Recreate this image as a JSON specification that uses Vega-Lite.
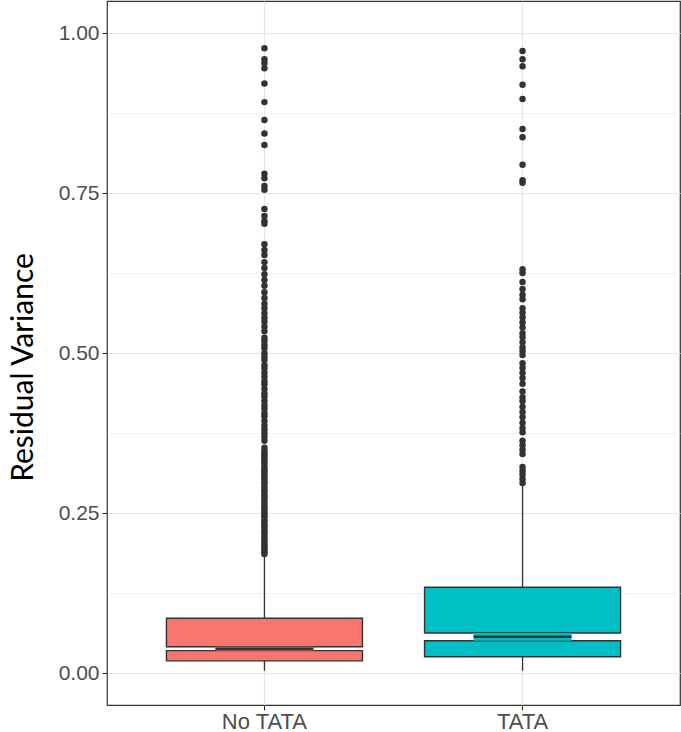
{
  "$schema": "https://vega.github.io/schema/vega-lite/v6.json",
  "width": 573,
  "height": 704,
  "autosize": {"type": "none"},
  "padding": {"left": 107, "top": 1, "right": 1, "bottom": 27},
  "background": "white",
  "config": {
    "view": {"stroke": "#333333", "strokeWidth": 1.2},
    "axis": {"domain": false}
  },
  "datasets": {
    "boxes": [
      {"group": "No TATA", "lower": 0.0035, "q1": 0.019, "nlo": 0.035, "median": 0.038, "nhi": 0.041, "q3": 0.0855, "upper": 0.184},
      {"group": "TATA", "lower": 0.0035, "q1": 0.0255, "nlo": 0.0505, "median": 0.0567, "nhi": 0.0625, "q3": 0.134, "upper": 0.293}
    ],
    "outliers": [
      {"group": "No TATA", "value": 0.976}, {"group": "No TATA", "value": 0.959}, {"group": "No TATA", "value": 0.953},
      {"group": "No TATA", "value": 0.945}, {"group": "No TATA", "value": 0.921}, {"group": "No TATA", "value": 0.892},
      {"group": "No TATA", "value": 0.864}, {"group": "No TATA", "value": 0.843}, {"group": "No TATA", "value": 0.825},
      {"group": "No TATA", "value": 0.780}, {"group": "No TATA", "value": 0.773}, {"group": "No TATA", "value": 0.761},
      {"group": "No TATA", "value": 0.755}, {"group": "No TATA", "value": 0.725}, {"group": "No TATA", "value": 0.714},
      {"group": "No TATA", "value": 0.706}, {"group": "No TATA", "value": 0.702}, {"group": "No TATA", "value": 0.670},
      {"group": "No TATA", "value": 0.661}, {"group": "No TATA", "value": 0.653}, {"group": "No TATA", "value": 0.642},
      {"group": "No TATA", "value": 0.633}, {"group": "No TATA", "value": 0.623}, {"group": "No TATA", "value": 0.614},
      {"group": "No TATA", "value": 0.605}, {"group": "No TATA", "value": 0.595}, {"group": "No TATA", "value": 0.586},
      {"group": "No TATA", "value": 0.577}, {"group": "No TATA", "value": 0.570}, {"group": "No TATA", "value": 0.562},
      {"group": "No TATA", "value": 0.555}, {"group": "No TATA", "value": 0.549}, {"group": "No TATA", "value": 0.541},
      {"group": "No TATA", "value": 0.534}, {"group": "No TATA", "value": 0.524}, {"group": "No TATA", "value": 0.519},
      {"group": "No TATA", "value": 0.513}, {"group": "No TATA", "value": 0.508}, {"group": "No TATA", "value": 0.500},
      {"group": "No TATA", "value": 0.494}, {"group": "No TATA", "value": 0.489}, {"group": "No TATA", "value": 0.481},
      {"group": "No TATA", "value": 0.476}, {"group": "No TATA", "value": 0.469}, {"group": "No TATA", "value": 0.463},
      {"group": "No TATA", "value": 0.456}, {"group": "No TATA", "value": 0.451}, {"group": "No TATA", "value": 0.444},
      {"group": "No TATA", "value": 0.437}, {"group": "No TATA", "value": 0.432}, {"group": "No TATA", "value": 0.425},
      {"group": "No TATA", "value": 0.418}, {"group": "No TATA", "value": 0.413}, {"group": "No TATA", "value": 0.406},
      {"group": "No TATA", "value": 0.401}, {"group": "No TATA", "value": 0.394}, {"group": "No TATA", "value": 0.387},
      {"group": "No TATA", "value": 0.381}, {"group": "No TATA", "value": 0.375}, {"group": "No TATA", "value": 0.369},
      {"group": "No TATA", "value": 0.363}, {"group": "No TATA", "value": 0.352}, {"group": "No TATA", "value": 0.347},
      {"group": "No TATA", "value": 0.343}, {"group": "No TATA", "value": 0.339}, {"group": "No TATA", "value": 0.335},
      {"group": "No TATA", "value": 0.331}, {"group": "No TATA", "value": 0.327}, {"group": "No TATA", "value": 0.322},
      {"group": "No TATA", "value": 0.318}, {"group": "No TATA", "value": 0.315}, {"group": "No TATA", "value": 0.311},
      {"group": "No TATA", "value": 0.307}, {"group": "No TATA", "value": 0.303}, {"group": "No TATA", "value": 0.299},
      {"group": "No TATA", "value": 0.296}, {"group": "No TATA", "value": 0.291}, {"group": "No TATA", "value": 0.287},
      {"group": "No TATA", "value": 0.284}, {"group": "No TATA", "value": 0.279}, {"group": "No TATA", "value": 0.275},
      {"group": "No TATA", "value": 0.272}, {"group": "No TATA", "value": 0.267}, {"group": "No TATA", "value": 0.263},
      {"group": "No TATA", "value": 0.259}, {"group": "No TATA", "value": 0.256}, {"group": "No TATA", "value": 0.251},
      {"group": "No TATA", "value": 0.247}, {"group": "No TATA", "value": 0.244}, {"group": "No TATA", "value": 0.239},
      {"group": "No TATA", "value": 0.236}, {"group": "No TATA", "value": 0.231}, {"group": "No TATA", "value": 0.228},
      {"group": "No TATA", "value": 0.223}, {"group": "No TATA", "value": 0.219}, {"group": "No TATA", "value": 0.216},
      {"group": "No TATA", "value": 0.211}, {"group": "No TATA", "value": 0.208}, {"group": "No TATA", "value": 0.203},
      {"group": "No TATA", "value": 0.199}, {"group": "No TATA", "value": 0.196}, {"group": "No TATA", "value": 0.192},
      {"group": "No TATA", "value": 0.189}, {"group": "No TATA", "value": 0.186},
      {"group": "TATA", "value": 0.972}, {"group": "TATA", "value": 0.959}, {"group": "TATA", "value": 0.948},
      {"group": "TATA", "value": 0.919}, {"group": "TATA", "value": 0.897}, {"group": "TATA", "value": 0.850},
      {"group": "TATA", "value": 0.837}, {"group": "TATA", "value": 0.794}, {"group": "TATA", "value": 0.770},
      {"group": "TATA", "value": 0.766}, {"group": "TATA", "value": 0.631}, {"group": "TATA", "value": 0.625},
      {"group": "TATA", "value": 0.611}, {"group": "TATA", "value": 0.600}, {"group": "TATA", "value": 0.591},
      {"group": "TATA", "value": 0.584}, {"group": "TATA", "value": 0.570}, {"group": "TATA", "value": 0.563},
      {"group": "TATA", "value": 0.556}, {"group": "TATA", "value": 0.548}, {"group": "TATA", "value": 0.540},
      {"group": "TATA", "value": 0.531}, {"group": "TATA", "value": 0.525}, {"group": "TATA", "value": 0.517},
      {"group": "TATA", "value": 0.509}, {"group": "TATA", "value": 0.503}, {"group": "TATA", "value": 0.497},
      {"group": "TATA", "value": 0.484}, {"group": "TATA", "value": 0.477}, {"group": "TATA", "value": 0.469},
      {"group": "TATA", "value": 0.461}, {"group": "TATA", "value": 0.452}, {"group": "TATA", "value": 0.440},
      {"group": "TATA", "value": 0.431}, {"group": "TATA", "value": 0.425}, {"group": "TATA", "value": 0.416},
      {"group": "TATA", "value": 0.408}, {"group": "TATA", "value": 0.400}, {"group": "TATA", "value": 0.391},
      {"group": "TATA", "value": 0.383}, {"group": "TATA", "value": 0.376}, {"group": "TATA", "value": 0.363},
      {"group": "TATA", "value": 0.356}, {"group": "TATA", "value": 0.349}, {"group": "TATA", "value": 0.342},
      {"group": "TATA", "value": 0.322}, {"group": "TATA", "value": 0.316}, {"group": "TATA", "value": 0.310},
      {"group": "TATA", "value": 0.303}, {"group": "TATA", "value": 0.297}
    ]
  },
  "layer": [
    {
      "data": {"name": "outliers"},
      "mark": {"type": "point", "filled": true, "color": "#333333", "opacity": 1, "size": 42},
      "encoding": {
        "x": {
          "field": "group", "type": "nominal", "title": null,
          "scale": {"domain": ["No TATA", "TATA"], "paddingInner": 0, "paddingOuter": 0.11},
          "axis": {
            "title": null, "labelAngle": 0, "grid": true, "gridColor": "#E6E6E6", "gridWidth": 1.2,
            "bandPosition": 0.5, "tickColor": "#333333", "tickSize": 5, "tickWidth": 1.1,
            "labelFont": "Liberation Sans", "labelFontSize": 22, "labelColor": "#4D4D4D", "labelPadding": 1
          }
        },
        "y": {
          "field": "value", "type": "quantitative", "title": "Residual Variance",
          "scale": {"domain": [-0.05, 1.05], "nice": false, "zero": false},
          "axis": {
            "values": [0, 0.125, 0.25, 0.375, 0.5, 0.625, 0.75, 0.875, 1.0],
            "labelExpr": "datum.value % 0.25 == 0 ? format(datum.value, '.2f') : ''",
            "grid": true, "gridColor": "#E6E6E6",
            "gridWidth": {"condition": {"test": "datum.value % 0.25 != 0", "value": 0.6}, "value": 1.2},
            "tickOpacity": {"condition": {"test": "datum.value % 0.25 != 0", "value": 0}, "value": 1},
            "tickColor": "#333333", "tickSize": 5, "tickWidth": 1.1,
            "labelFont": "Liberation Sans", "labelFontSize": 21, "labelColor": "#4D4D4D", "labelPadding": 3,
            "title": "Residual Variance", "titleFont": "Lato", "titleFontSize": 30, "titleFontWeight": "normal",
            "titleColor": "#000000", "titleAngle": -90, "titleAlign": "center", "titleBaseline": "alphabetic",
            "titleX": -75, "titleY": 366
          }
        }
      }
    },
    {
      "data": {"name": "boxes"},
      "mark": {"type": "rule", "color": "#333333", "strokeWidth": 1.3},
      "encoding": {
        "x": {"field": "group", "type": "nominal", "title": null},
        "y": {"field": "lower", "type": "quantitative", "title": "Residual Variance"},
        "y2": {"field": "upper"}
      }
    },
    {
      "data": {"name": "boxes"},
      "mark": {"type": "bar", "size": 196, "stroke": "#333333", "strokeWidth": 1.4},
      "encoding": {
        "x": {"field": "group", "type": "nominal", "title": null},
        "y": {"field": "q1", "type": "quantitative", "title": "Residual Variance"},
        "y2": {"field": "nlo"},
        "color": {"field": "group", "type": "nominal", "scale": {"domain": ["No TATA", "TATA"], "range": ["#F8766D", "#00BFC4"]}, "legend": null}
      }
    },
    {
      "data": {"name": "boxes"},
      "mark": {"type": "bar", "size": 196, "stroke": "#333333", "strokeWidth": 1.4},
      "encoding": {
        "x": {"field": "group", "type": "nominal", "title": null},
        "y": {"field": "nhi", "type": "quantitative", "title": "Residual Variance"},
        "y2": {"field": "q3"},
        "color": {"field": "group", "type": "nominal", "legend": null}
      }
    },
    {
      "data": {"name": "boxes"},
      "mark": {"type": "bar", "size": 98, "strokeWidth": 0},
      "encoding": {
        "x": {"field": "group", "type": "nominal", "title": null},
        "y": {"field": "nlo", "type": "quantitative", "title": "Residual Variance"},
        "y2": {"field": "nhi"},
        "color": {"field": "group", "type": "nominal", "legend": null}
      }
    },
    {
      "data": {"name": "boxes"},
      "mark": {"type": "tick", "size": 98, "thickness": 2.5, "color": "#333333", "opacity": 1},
      "encoding": {
        "x": {"field": "group", "type": "nominal", "title": null},
        "y": {"field": "median", "type": "quantitative", "title": "Residual Variance"}
      }
    }
  ]
}
